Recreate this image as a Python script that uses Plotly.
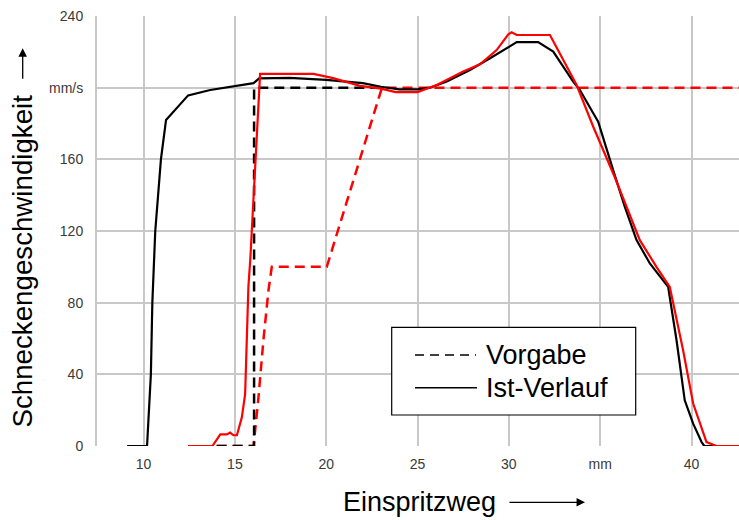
import plotly.graph_objects as go

# ---- data ----
ist_black_x = [9.1, 10.19, 10.40, 10.48, 10.64, 10.95, 11.23, 12.44, 13.65, 15.0, 16.02, 16.33,
               18.0, 20.0, 21.0, 22.0, 23.0, 24.0, 25.0, 25.68, 26.6, 27.87, 28.97, 30.06,
               30.43, 31.6, 32.43, 33.52, 33.89, 34.62, 34.89, 35.71, 36.35, 36.99, 37.72,
               38.72, 39.18, 39.63, 40.09, 40.55, 40.7, 42.6]
ist_black_y = [0, 0, 40, 80, 120, 160, 182, 195.7, 198.7, 200.9, 202.5, 205.2,
               205.5, 204.3, 203.5, 202.5, 200.5, 199, 199, 200, 203.4, 209.9, 216.4, 222.9,
               225.4, 225.4, 220.1, 203.4, 198.7, 185.7, 181, 154, 133.5, 114.9, 101.9,
               88.8, 59, 25.5, 12.5, 2.2, 0, 0]

ist_red_x = [12.43, 13.77, 14.2, 14.56, 14.74, 14.92, 15.11, 15.38, 15.56, 15.66, 15.74, 15.84,
             16.02, 16.2, 16.38, 19.3, 20.38, 21.85, 23.0, 23.8, 25.0, 26.05, 27.5, 28.42,
             29.33, 29.97, 30.15, 30.43, 32.25, 33.71, 34.62, 35.8, 36.45, 37.17, 38.08,
             38.81, 39.54, 40.09, 40.82, 41.37, 42.6]
ist_red_y = [0, 0, 6.5, 6.5, 7.5, 6, 6, 16, 29, 61, 89, 103.7,
             137, 174.5, 207.7, 207.7, 205.3, 201, 199.5, 197.5, 197.5, 201.5, 209, 213,
             221, 229.8, 230.9, 229.4, 229.4, 201.5, 178.2, 150, 133.5, 114.9, 100,
             88.8, 53.5, 23.7, 2.2, 0, 0]

vorgabe_black_x = [14.0, 16.05, 16.05, 23.0]
vorgabe_black_y = [0, 0, 200, 200]

vorgabe_red_x = [14.0, 16.02, 16.29, 16.56, 16.84, 17.02, 20.03, 23.05, 42.6]
vorgabe_red_y = [0, 0, 27, 59, 87, 100, 100, 200, 200]

x_tickvals = [10, 15, 20, 25, 30, 35, 40]
x_ticktext = ["10", "15", "20", "25", "30", "mm", "40"]
y_tickvals = [0, 40, 80, 120, 160, 200, 240]
y_ticktext = ["0", "40", "80", "120", "160", "mm/s", "240"]

legend_labels = ["Vorgabe", "Ist-Verlauf"]
x_title = "Einspritzweg"
y_title = "Schneckengeschwindigkeit"

FONT = "Liberation Sans, Arial, sans-serif"
DASH = "10px,6px"

fig = go.Figure()
fig.add_trace(go.Scatter(x=vorgabe_red_x, y=vorgabe_red_y, mode="lines",
                         line=dict(color="#ff0000", width=2.5, dash=DASH), showlegend=False))
fig.add_trace(go.Scatter(x=vorgabe_black_x, y=vorgabe_black_y, mode="lines",
                         line=dict(color="#000000", width=2.5, dash=DASH), showlegend=False))
fig.add_trace(go.Scatter(x=ist_black_x, y=ist_black_y, mode="lines",
                         line=dict(color="#000000", width=2.2), showlegend=False))
fig.add_trace(go.Scatter(x=ist_red_x, y=ist_red_y, mode="lines",
                         line=dict(color="#ff0000", width=2.2), showlegend=False))

# pixel helpers for layout decorations (plot area: left 97, width 642, top 16, height 430)
L, W, T, H = 97, 642, 16, 430
def px(xp):
    return (xp - L) / W
def py(yp):
    return (T + H - yp) / H

shapes = [
    dict(type="rect", xref="paper", yref="paper", x0=px(391.7), x1=px(635.7),
         y0=py(415), y1=py(327.3), line=dict(color="#000", width=1.2), fillcolor="white", layer="above"),
    dict(type="line", xref="paper", yref="paper", x0=px(415), x1=px(476), y0=py(355), y1=py(355),
         line=dict(color="#000", width=1.3, dash="9px,6px"), layer="above"),
    dict(type="line", xref="paper", yref="paper", x0=px(415), x1=px(477), y0=py(387.7), y1=py(387.7),
         line=dict(color="#000", width=1.5), layer="above"),
]

annotations = [
    dict(text=legend_labels[0], xref="paper", yref="paper", x=px(484), y=py(355), xanchor="left",
         yanchor="middle", showarrow=False, font=dict(family=FONT, size=27, color="#000")),
    dict(text=legend_labels[1], xref="paper", yref="paper", x=px(484), y=py(388), xanchor="left",
         yanchor="middle", showarrow=False, font=dict(family=FONT, size=27, color="#000")),
    dict(text=x_title, xref="paper", yref="paper", x=px(419.7), y=py(502), xanchor="center",
         yanchor="middle", showarrow=False, font=dict(family=FONT, size=27, color="#000")),
    dict(text=y_title, xref="paper", yref="paper", x=px(22), y=py(261.5), xanchor="center",
         yanchor="middle", textangle=-90, showarrow=False, font=dict(family=FONT, size=27.7, color="#000")),
    dict(text="", xref="paper", yref="paper", x=px(585), y=py(502.3), ax=-77, ay=0,
         showarrow=True, arrowhead=2, arrowsize=1.3, arrowwidth=1.3, arrowcolor="#000"),
    dict(text="", xref="paper", yref="paper", x=px(22.7), y=py(48.3), ax=0, ay=32,
         showarrow=True, arrowhead=2, arrowsize=1.3, arrowwidth=1.3, arrowcolor="#000"),
]

fig.update_layout(
    width=739, height=520,
    margin=dict(l=L, r=0, t=T, b=520 - T - H),
    paper_bgcolor="white", plot_bgcolor="white",
    font=dict(family=FONT, size=14, color="#3a3a3a"),
    showlegend=False,
    shapes=shapes,
    annotations=annotations,
    xaxis=dict(range=[7.45, 42.6], tickvals=x_tickvals, ticktext=x_ticktext,
               showgrid=True, gridcolor="#c8c8c8", gridwidth=2, zeroline=False,
               ticks="", ticklabelstandoff=8, showline=False,
               tickfont=dict(family=FONT, size=14, color="#3a3a3a")),
    yaxis=dict(range=[0, 240], tickvals=y_tickvals, ticktext=y_ticktext,
               showgrid=True, gridcolor="#c8c8c8", gridwidth=2, zeroline=False,
               ticks="", ticklabelstandoff=9, showline=True, linecolor="#c8c8c8", linewidth=2,
               tickfont=dict(family=FONT, size=14, color="#3a3a3a")),
)

fig.write_html("out.html", config={"displayModeBar": False},
               post_script="document.body.style.margin='0';document.body.style.overflow='hidden';")
